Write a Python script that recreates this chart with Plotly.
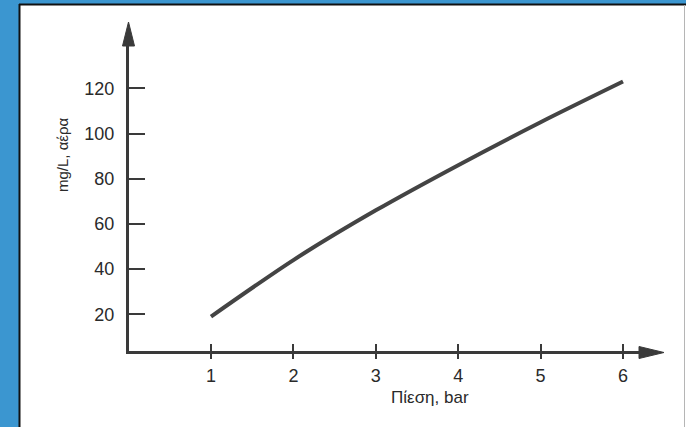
import plotly.graph_objects as go

# ---- data ----
pressure_bar = [1, 2, 3, 4, 5, 6]
air_mg_per_L = [19, 44, 66, 86, 105, 123]
x_tick_vals = [1, 2, 3, 4, 5, 6]
y_tick_vals = [20, 40, 60, 80, 100, 120]
x_title = "Πίεση, bar"
y_title = "mg/L, αέρα"

W, H = 686, 427
def fx(px):
    return px / W
def fy(py):
    return 1 - py / H

AX = "#3a3a3a"
TXT = "#2a2a2a"
FONT = "Liberation Sans, Arial, sans-serif"

fig = go.Figure()
fig.add_trace(go.Scatter(
    x=pressure_bar, y=air_mg_per_L, mode="lines",
    line=dict(color="#444444", width=4, shape="spline", smoothing=0.8),
    hoverinfo="skip", showlegend=False,
))
# invisible trace on overlay axis so it renders
fig.add_trace(go.Scatter(x=[0], y=[0], xaxis="x2", yaxis="y", mode="markers",
                         marker=dict(opacity=0), hoverinfo="skip", showlegend=False))

x_domain = [fx(129), fx(652)]
y_domain = [fy(351), fy(32)]
# mapping: x px = 128.6 + 82.4*x ; y px = 359.5 - 2.26*y
x_range = [(129 - 128.6) / 82.4, (652 - 128.6) / 82.4]
y_range = [(359.5 - 351) / 2.26, (359.5 - 32) / 2.26]

fig.update_layout(
    width=W, height=H,
    template="none",
    margin=dict(l=0, r=0, t=0, b=0),
    paper_bgcolor="#3b96d0",
    plot_bgcolor="rgba(0,0,0,0)",
    font=dict(family=FONT, color=TXT, size=18),
    xaxis=dict(domain=x_domain, range=x_range, anchor="y",
               showgrid=False, zeroline=False, showline=True,
               linecolor=AX, linewidth=3, ticks="inside", ticklen=7,
               tickwidth=1.5, tickcolor=AX, tickvals=x_tick_vals,
               ticklabelstandoff=6, automargin=False,
               tickfont=dict(size=18, color=TXT)),
    xaxis2=dict(domain=x_domain, range=x_range, anchor="y", overlaying="x",
                showgrid=False, zeroline=False, showline=False,
                ticks="outside", ticklen=7, tickwidth=1.5, tickcolor=AX,
                tickvals=x_tick_vals, showticklabels=False, automargin=False),
    yaxis=dict(domain=y_domain, range=y_range, anchor="x",
               showgrid=False, zeroline=False, showline=True,
               linecolor=AX, linewidth=3, ticks="inside", ticklen=16,
               tickwidth=1.5, tickcolor=AX, tickvals=y_tick_vals,
               ticklabelstandoff=8, automargin=False,
               tickfont=dict(size=18, color=TXT)),
)

shapes = [
    # white panel
    dict(type="rect", xref="paper", yref="paper", x0=fx(19), x1=fx(686),
         y0=fy(427), y1=fy(4), fillcolor="white", line=dict(width=0), layer="below"),
    # black border top & left
    dict(type="line", xref="paper", yref="paper", x0=fx(19), x1=fx(686),
         y0=fy(4.5), y1=fy(4.5), line=dict(color="#111111", width=2)),
    dict(type="line", xref="paper", yref="paper", x0=fx(19.5), x1=fx(19.5),
         y0=fy(4), y1=fy(427), line=dict(color="#111111", width=2)),
    # grey right edge
    dict(type="line", xref="paper", yref="paper", x0=fx(684.5), x1=fx(684.5),
         y0=fy(5), y1=fy(427), line=dict(color="#b5b5b5", width=1)),
]
# arrowheads
def tri(p):
    return "M " + " L ".join(f"{fx(a)},{fy(b)}" for a, b in p) + " Z"
shapes.append(dict(type="path", xref="paper", yref="paper",
                   path=tri([(128.5, 22), (122.5, 46), (134.5, 46)]),
                   fillcolor=AX, line=dict(color=AX, width=1)))
shapes.append(dict(type="path", xref="paper", yref="paper",
                   path=tri([(664, 352.5), (639, 346.5), (639, 358.5)]),
                   fillcolor=AX, line=dict(color=AX, width=1)))
fig.update_layout(shapes=shapes)

fig.add_annotation(text=x_title, xref="paper", yref="paper",
                   x=fx(430), y=fy(397), xanchor="center", yanchor="middle",
                   showarrow=False,
                   font=dict(size=17, color=TXT, family=FONT))
fig.add_annotation(text=y_title, xref="paper", yref="paper",
                   x=fx(63), y=fy(155), xanchor="center", yanchor="middle",
                   showarrow=False, textangle=-90,
                   font=dict(size=15, color=TXT, family=FONT))

fig.write_html("out.html", config={"displayModeBar": False})

# remove default page margin so the figure fills the window
with open("out.html", encoding="utf-8") as f:
    html = f.read()
html = html.replace("<head>", "<head><style>html,body{margin:0;padding:0;overflow:hidden;}</style>", 1)
with open("out.html", "w", encoding="utf-8") as f:
    f.write(html)
